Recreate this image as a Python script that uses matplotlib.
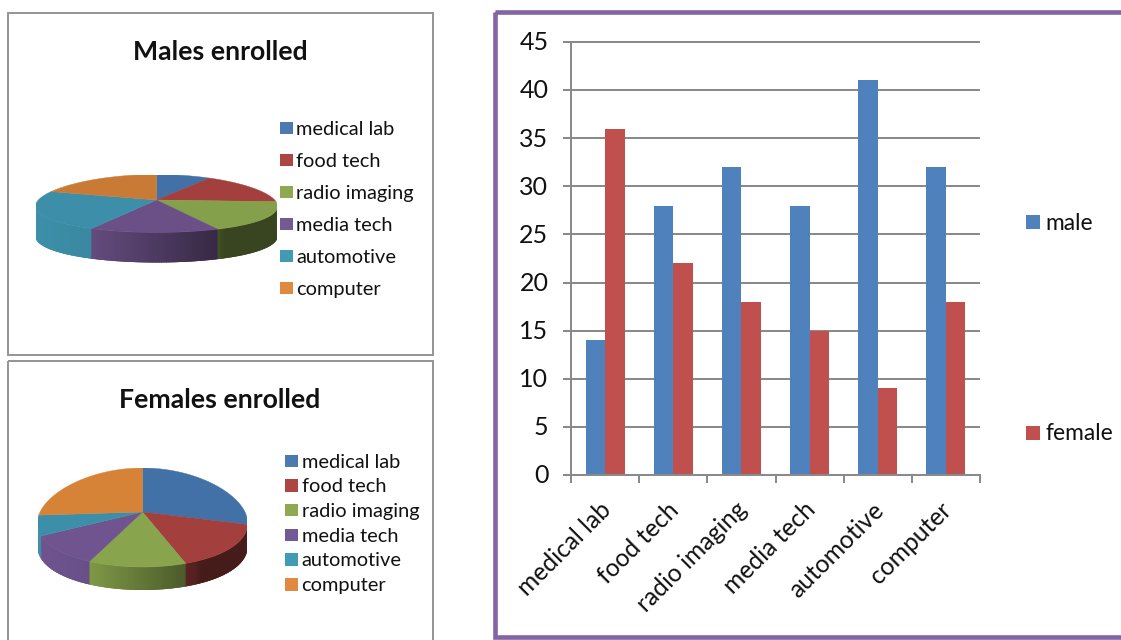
import numpy as np
import matplotlib
matplotlib.use("Agg")
import matplotlib.pyplot as plt
from matplotlib.colors import to_rgb
from matplotlib.patches import Rectangle, Polygon
from matplotlib.transforms import ScaledTranslation

plt.rcParams['font.family'] = ['Lato', 'DejaVu Sans']

# Enrolment figures
courses = ["medical lab", "food tech", "radio imaging", "media tech", "automotive", "computer"]
male = [14, 28, 32, 28, 41, 32]
female = [36, 22, 18, 15, 9, 18]
male_pie = [14, 28, 32, 28, 41, 32]
female_pie = [36, 22, 18, 15, 9, 32]
y_ticks = [0, 5, 10, 15, 20, 25, 30, 35, 40, 45]

# Colours
male_slices = ["#4271a8", "#a3403e", "#84a04a", "#6a5086", "#3d8fa9", "#c97b36"]
female_slices = ["#4271a8", "#a3403e", "#88a44c", "#6f5490", "#3d8fa9", "#d68338"]
legend_colors = ["#4a7ab0", "#ad4543", "#8ea950", "#735a94", "#429bb5", "#df8a40"]
male_color = "#4f81bd"
female_color = "#c0504d"
frame_gray = "#969696"
grid_gray = "#8a8a8a"
purple = "#8465a4"
text_color = "#111111"

W, H = 1121, 640
fig = plt.figure(figsize=(W / 100, H / 100), dpi=100, facecolor="white")
px = 72 / 100


def axes_px(x0, y0, x1, y1, **kw):
    """Axes placed by its pixel box, measured from the top left of the figure."""
    return fig.add_axes([x0 / W, 1 - y1 / H, (x1 - x0) / W, (y1 - y0) / H], **kw)


page = axes_px(0, 0, W, H)
page.set_xlim(0, W)
page.set_ylim(H, 0)
page.axis("off")

# Panel frames
page.add_patch(Rectangle((8, 13), 425, 342, fill=False, ec=frame_gray, lw=2 * px))
page.add_patch(Rectangle((8, 361), 425, 320, fill=False, ec=frame_gray, lw=2 * px, clip_on=True))
page.add_patch(Rectangle((495, 11.5), 700, 625, fill=False, ec=purple, lw=4.6 * px, clip_on=True))


def wall_shade(x):
    """Brightness of the pie's rim: lit at the left, in shadow at the right."""
    t = (x + 1) / 2
    return float(np.interp(t, [0.0, 0.22, 0.75, 0.78, 1.0], [1.0, 0.95, 0.52, 0.43, 0.43]))


def pie_3d(box, values, colors, depth, apex_lift, flare):
    """Tilted pie drawn clockwise from twelve o'clock inside a pixel box."""
    x0, y_top, x1, y_bottom = box
    ry = (y_bottom - y_top) / 2
    ax = axes_px(x0, y_top, x1, y_bottom + depth)
    ax.set_xlim(-1, 1)
    ax.set_ylim(-1 - depth / ry, 1)
    ax.axis("off")
    d = depth / ry

    def rim(angle):
        # The near side of the pie spreads a little wider than the far side
        y = np.cos(angle)
        return np.sin(angle) * (1 - flare * y), y

    edges = np.concatenate([[0], np.cumsum(values)]) / np.sum(values) * 2 * np.pi
    for start, stop, color in zip(edges[:-1], edges[1:], colors):
        base = np.array(to_rgb(color))
        # Rim on the near half, in overlapping strips running right to left
        lo, hi = max(start, np.pi / 2), min(stop, 3 * np.pi / 2)
        if hi > lo:
            steps = np.linspace(lo, hi, max(2, int(np.degrees(hi - lo)) + 1))
            for a, b in zip(steps[:-1], steps[1:]):
                reach = min(b + np.radians(1.5), 3 * np.pi / 2)
                xa, ya = rim(a)
                xb, yb = rim(reach)
                xm = rim((a + b) / 2)[0]
                shade = base * wall_shade(xm)
                ax.add_patch(Polygon([(xa, ya), (xb, yb), (xb, yb - d), (xa, ya - d)],
                                     closed=True, fc=shade, ec="none"))
    for start, stop, color in zip(edges[:-1], edges[1:], colors):
        t = np.linspace(start, stop, 90)
        pts = np.column_stack(rim(t))
        pts = np.vstack([[0, apex_lift / ry], pts])
        ax.add_patch(Polygon(pts, closed=True, fc=color, ec=color, lw=0.3))
    return ax


pie_3d((36, 174.5, 277, 232.5), male_pie, male_slices, depth=30, apex_lift=3.5, flare=0.1)
pie_3d((38, 468, 247, 567), female_pie, female_slices, depth=23, apex_lift=5.5, flare=0.12)

# Pie titles and legends
page.text(220, 52.5, "Males enrolled", ha="center", va="center", fontsize=19.2,
          fontweight="bold", color=text_color)
page.text(220, 400.5, "Females enrolled", ha="center", va="center", fontsize=19.2,
          fontweight="bold", color=text_color)


def pie_legend(x, rows, size, text_x):
    for name, color, y in zip(courses, legend_colors, rows):
        page.add_patch(Rectangle((x, y - size / 2), size, size, fc=color, ec="none"))
        page.text(text_x, y + 1.3, name, ha="left", va="center", fontsize=14.4, color=text_color)


pie_legend(280, [128, 160, 192, 224, 256, 288], 12.5, 296.5)
pie_legend(285, [461, 485.5, 510, 535, 559.5, 584.5], 12.5, 301.5)

# Grouped columns
ax = axes_px(571, 42, 980, 475)
ax.set_xlim(0, len(courses))
ax.set_ylim(0, 45)
ax.patch.set_alpha(0)
pos = np.arange(len(courses)) + 0.5
bar_w = 0.287
ax.set_axisbelow(True)
ax.bar(pos - bar_w / 2, male, bar_w, color=male_color, label="male")
ax.bar(pos + bar_w / 2, female, bar_w, color=female_color, label="female")
for side in ["top", "right"]:
    ax.spines[side].set_visible(False)
for side in ["left", "bottom"]:
    ax.spines[side].set_color(grid_gray)
    ax.spines[side].set_linewidth(2 * px)
ax.set_yticks(y_ticks)
ax.grid(axis="y", color=grid_gray, lw=2 * px, solid_capstyle="butt")
for line in ax.get_ygridlines():
    line.set_clip_on(False)
ax.tick_params(axis="y", length=8 * px, width=2 * px, color=grid_gray, labelsize=18,
               labelcolor=text_color, pad=10.5)
nudge = ScaledTranslation(0, 1.2 / 100, fig.dpi_scale_trans)
for label in ax.get_yticklabels():
    label.set_transform(label.get_transform() + nudge)
ax.set_xticks(np.arange(len(courses) + 1))
ax.set_xticklabels([])
ax.tick_params(axis="x", length=8 * px, width=2 * px, color=grid_gray)
for p, name in zip(pos, courses):
    ax.annotate(name, xy=(p, 0), xycoords="data", xytext=(-4.5, -16.5), textcoords="offset points",
                rotation=45, rotation_mode="anchor", ha="right", va="top",
                fontsize=17.7, color=text_color)

# Column legend
for name, color, y in zip(["male", "female"], [male_color, female_color], [222, 433]):
    page.add_patch(Rectangle((1026, y - 7), 14, 14, fc=color, ec="none"))
    page.text(1045, y + 1, name, ha="left", va="center", fontsize=16.4, color=text_color)

fig.savefig("out.png", dpi=100)
